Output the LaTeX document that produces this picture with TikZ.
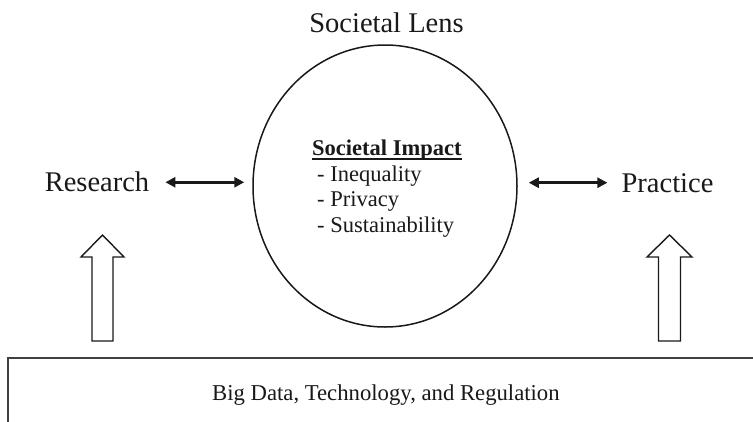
\documentclass[tikz,border=0pt]{standalone}
\usepackage{fontspec}
\setmainfont{Liberation Serif}
\usetikzlibrary{arrows.meta,shapes.geometric,calc}
\tikzset{
  big/.style={inner sep=0pt, font=\fontsize{28.5}{34}\selectfont, text=black!90},
  small/.style={inner sep=0pt, font=\fontsize{22.5}{26}\selectfont, text=black!90},
  dbl/.style={line width=2.6pt, black!90, {Triangle[length=10pt,width=10pt]}-{Triangle[length=10pt,width=10pt]}},
  blockarrow/.style={draw=black!90, line width=1.4pt, fill=white, line join=miter},
}
\begin{document}
\begin{tikzpicture}[x=1pt,y=-1pt]
\clip (0,0) rectangle (753,421);
\fill[white] (0,0) rectangle (753,421);

% ellipse
\node[ellipse, draw=black!90, line width=1.5pt, minimum width=264pt, minimum height=282pt, inner sep=0pt] (soc) at (385,186) {};

% titles
\node[big, anchor=base] (lens) at (386.5,32) {Societal Lens};
\node[big, anchor=base] (res) at (97,191.5) {Research};
\node[big, anchor=base] (prac) at (667.5,192.5) {Practice};

% inner text
\node[small, anchor=base west, font=\fontsize{22.5}{26}\selectfont\bfseries] (impt) at (312,155) {Societal Impact};
\draw[line width=1.3pt, black!90] ($(impt.base west)+(0,4)$) -- ($(impt.base east)+(0,4)$);
\node[small, anchor=base west] (imp1) at (317,181) {- Inequality};
\node[small, anchor=base west] (imp2) at (317,206.5) {- Privacy};
\node[small, anchor=base west] (imp3) at (317,232) {- Sustainability};

% double arrows
\draw[dbl] ($(res.east)+(16,0.5)$) -- ($(res.east -| soc.west)+(-8,0.5)$);
\draw[dbl] ($(prac.west -| soc.east)+(11,-0.5)$) -- ($(prac.west)+(-14,-0.5)$);

% bottom box
\node[draw=black!75, line width=1.8pt, anchor=north west, minimum width=756pt, minimum height=75pt, inner sep=0pt,
      font=\fontsize{22.7}{26}\selectfont, text=black!90] (base) at (7,357) {Big Data, Technology, and Regulation};

% block arrows
\draw[blockarrow] (92,341) -- (92,257) -- (81,257) -- (102.5,235) -- (124,257) -- (113,257) -- (113,341) -- cycle;
\draw[blockarrow] (658.5,341) -- (658.5,257) -- (647,257) -- (669.5,235) -- (692,257) -- (680.5,257) -- (680.5,341) -- cycle;
\end{tikzpicture}
\end{document}
